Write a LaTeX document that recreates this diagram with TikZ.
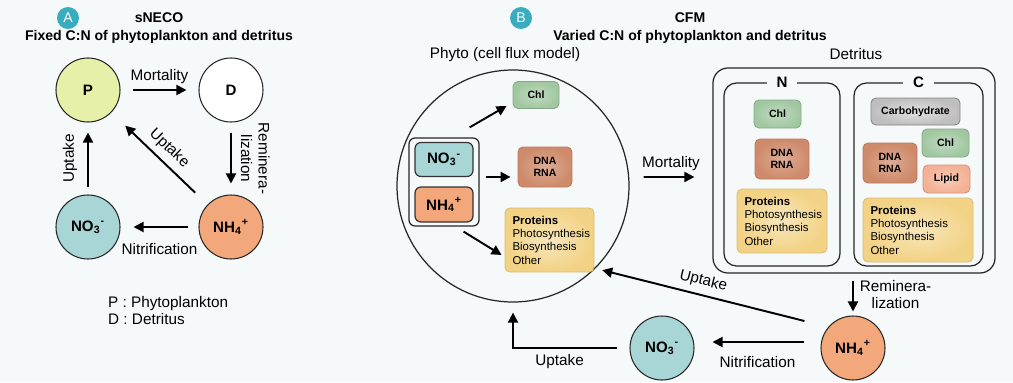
\documentclass[tikz,border=0pt]{standalone}
\usepackage{fontspec}
\setmainfont{Liberation Sans}
\usetikzlibrary{arrows.meta,calc}

\definecolor{bgcol}{RGB}{246,249,249}
\definecolor{badgecol}{RGB}{58,172,192}
\definecolor{phyfill}{RGB}{231,240,168}
\definecolor{no3fill}{RGB}{168,213,213}
\definecolor{nh4fill}{RGB}{242,168,122}
\definecolor{chlfill}{RGB}{160,199,160}
\definecolor{dnafill}{RGB}{206,138,106}
\definecolor{protfill}{RGB}{242,210,132}
\definecolor{carbfill}{RGB}{190,190,190}
\definecolor{lipfill}{RGB}{244,176,148}

\newcommand{\fsTitle}{\fontsize{8pt}{10.2pt}\selectfont\bfseries}
\newcommand{\fsLabel}{\fontsize{8.7pt}{10pt}\selectfont}
\newcommand{\fsPool}{\fontsize{8.6pt}{10pt}\selectfont\bfseries}
\newcommand{\fsBox}{\fontsize{6pt}{7pt}\selectfont\bfseries}
\newcommand{\fsList}{\fontsize{6.5pt}{7.6pt}\selectfont}

\begin{document}
\begin{tikzpicture}[
  flow/.style={-{Triangle[length=2mm,width=2mm]},line width=1.1pt},
  pool/.style={circle,draw=black!85,line width=0.6pt,minimum size=1.28cm,inner sep=0pt,font=\fsPool},
  badgenode/.style={circle,fill=badgecol,text=white,minimum size=0.44cm,inner sep=0pt,font=\fontsize{8pt}{9pt}\selectfont},
  title/.style={font=\fsTitle,align=center},
  lbl/.style={font=\fsLabel},
  frame/.style={draw=black!85,line width=0.7pt,inner sep=0pt},
  part/.style={rounded corners=0.1cm,line width=0.5pt,inner sep=0pt,align=center,font=\fsBox},
  chlbox/.style={part,draw=chlfill!85!black,inner color=chlfill!65!white,outer color=chlfill,minimum width=0.94cm,minimum height=0.56cm},
  dnabox/.style={part,draw=dnafill!90!black,inner color=dnafill!70!white,outer color=dnafill,minimum width=1.08cm,minimum height=0.80cm},
  protbox/.style={part,draw=protfill!90!black,inner color=protfill!55!white,outer color=protfill,align=left,font=\fsList,inner xsep=0.15cm,minimum height=1.28cm},
  nutbox/.style={rounded corners=0.12cm,draw=black!80,line width=0.7pt,inner sep=0pt,font=\fsPool,minimum width=1.16cm,minimum height=0.68cm}
]
\fill[bgcol] (0,0) rectangle (20.26,7.64);
\useasboundingbox (0,0) rectangle (20.26,7.64);

% ---- A: sNECO
\node[badgenode] (badgeA) at (1.36,7.28) {A};
\node[title] (titleA) at (3.18,7.08) {sNECO\\Fixed C:N of phytoplankton and detritus};

\node[pool,fill=phyfill] (P) at (1.76,5.84) {P};
\node[pool,fill=white] (D) at (4.62,5.84) {D};
\node[pool,fill=no3fill] (NO3) at (1.76,3.10) {NO\textsubscript{3}\textsuperscript{-}};
\node[pool,fill=nh4fill] (NH4) at (4.62,3.10) {NH\textsubscript{4}\textsuperscript{+}};

\draw[flow,shorten <=0.24cm,shorten >=0.24cm] (P) -- node[above,lbl] {Mortality} (D);
\draw[flow,shorten <=0.2cm,shorten >=0.22cm] (D) --
  node[midway,rotate=-90,anchor=south,align=center,inner ysep=0.18cm,lbl] {Reminera-\\lization} (NH4);
\draw[flow,shorten <=0.2cm,shorten >=0.26cm] (NH4) -- node[below=0.2cm,lbl] {Nitrification} (NO3);
\draw[flow,shorten <=0.14cm,shorten >=0.2cm] (NO3) --
  node[midway,rotate=90,anchor=south,inner ysep=0.2cm,lbl] {Uptake} (P);
\draw[flow,shorten <=0.34cm,shorten >=0.38cm] (NH4) -- node[midway,above,sloped,lbl] {Uptake} (P);

\node[anchor=west,align=left,lbl] (legend) at (2.04,1.43) {P : Phytoplankton\\D : Detritus};

% ---- B: CFM
\node[badgenode] (badgeB) at (10.42,7.28) {B};
\node[title] (titleB) at (13.80,7.08) {CFM\\Varied C:N of phytoplankton and detritus};

% phytoplankton cell
\node[lbl] (cellname) at (10.10,6.54) {Phyto (cell flux model)};
\node[circle,draw=black!85,line width=0.7pt,minimum size=4.64cm,inner sep=0pt] (cell) at (10.26,3.92) {};
\node[frame,rounded corners=0.12cm,minimum width=1.40cm,minimum height=1.76cm] (nut) at (8.88,4.00) {};
\node[nutbox,fill=no3fill] (no3b) at (8.88,4.45) {NO\textsubscript{3}\textsuperscript{-}};
\node[nutbox,fill=nh4fill,minimum height=0.70cm] (nh4b) at (8.88,3.55) {NH\textsubscript{4}\textsuperscript{+}};
\node[chlbox,minimum width=0.92cm,minimum height=0.54cm] (chl) at (10.72,5.74) {Chl};
\node[dnabox] (dna) at (10.90,4.30) {DNA\\RNA};
\node[protbox,text width=1.48cm] (prot) at (10.99,2.84) {\textbf{Proteins}\\Photosynthesis\\Biosynthesis\\Other};

\draw[flow] ($(nut.north east)+(-0.2,0.2)$) -- ($(chl.south west)+(-0.12,0.06)$);
\draw[flow] ($(nut.east)+(0.12,0.1)$) -- ($(dna.west |- nut.east)+(-0.14,0.1)$);
\draw[flow] ($(nut.south east)+(-0.32,-0.1)$) -- ($(prot.west)+(-0.06,-0.3)$);

% detritus, split in N and C
\node[lbl] (detname) at (17.12,6.56) {Detritus};
\node[frame,rounded corners=0.3cm,minimum width=5.64cm,minimum height=4.10cm] (det) at (17.08,4.23) {};
\node[frame,rounded corners=0.25cm,minimum width=2.32cm,minimum height=3.66cm] (nbox) at (15.64,4.15) {};
\node[frame,rounded corners=0.25cm,minimum width=2.58cm,minimum height=3.66cm] (cbox) at (18.37,4.15) {};
\node[fill=bgcol,inner xsep=0.2cm,inner ysep=1pt,font=\fsPool] (ntag) at (nbox.north) {N};
\node[fill=bgcol,inner xsep=0.2cm,inner ysep=1pt,font=\fsPool] (ctag) at (cbox.north) {C};

\node[chlbox] (nchl) at (15.55,5.36) {Chl};
\node[dnabox] (ndna) at (15.64,4.46) {DNA\\RNA};
\node[protbox,text width=1.50cm] (nprot) at (15.64,3.22) {\textbf{Proteins}\\Photosynthesis\\Biosynthesis\\Other};

\node[part,draw=carbfill!70!black,inner color=carbfill!45!white,outer color=carbfill,minimum width=1.78cm,minimum height=0.54cm] (ccarb) at (18.31,5.41) {Carbohydrate};
\node[chlbox] (cchl) at (18.91,4.78) {Chl};
\node[dnabox] (cdna) at (17.80,4.38) {DNA\\RNA};
\node[part,draw=lipfill!85!black,inner color=lipfill!65!white,outer color=lipfill,minimum width=0.94cm,minimum height=0.56cm] (clip) at (18.93,4.06) {Lipid};
\node[protbox,text width=1.90cm] (cprot) at (18.36,3.04) {\textbf{Proteins}\\Photosynthesis\\Biosynthesis\\Other};

% dissolved pools
\node[pool,fill=nh4fill] (nh4r) at (17.06,0.68) {NH\textsubscript{4}\textsuperscript{+}};
\node[pool,fill=no3fill] (no3r) at (13.24,0.68) {NO\textsubscript{3}\textsuperscript{-}};

\draw[flow,shorten <=0.28cm,shorten >=0.36cm] ([yshift=0.18cm]cell.east) --
  node[above,lbl] {Mortality} ([yshift=-0.13cm]det.west);
\draw[flow,shorten <=0.14cm,shorten >=0.08cm] (det.south -| nh4r) --
  node[right,align=center,lbl] {Reminera-\\lization} (nh4r);
\draw[flow,shorten <=0.32cm,shorten >=0.36cm] ([yshift=0.12cm]nh4r.west) --
  node[below=0.15cm,lbl] {Nitrification} ([yshift=0.12cm]no3r.east);
\draw[flow,shorten >=0.14cm] ([xshift=-0.32cm,yshift=0.54cm]nh4r.west) --
  node[above,sloped,lbl] {Uptake} (cell.-45);
\draw[flow,shorten <=0.24cm,shorten >=0.2cm] (no3r.west) -|
  node[pos=0.3,below,lbl] {Uptake} (cell.south);
\end{tikzpicture}
\end{document}
